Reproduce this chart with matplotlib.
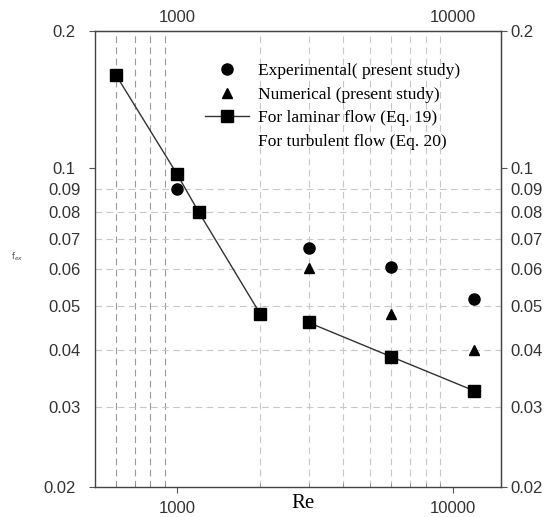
# Friction factor vs Re (log-log)

import matplotlib.pyplot as plt
from matplotlib.lines import Line2D
from matplotlib.ticker import FixedLocator, NullFormatter, FuncFormatter

# Experimental (present study)
re_exp = [1000, 3000, 6000, 12000]
f_exp = [0.090, 0.0668, 0.0608, 0.0516]

# Numerical (present study)
re_num = [3000, 6000, 12000]
f_num = [0.0605, 0.0479, 0.0399]

# Laminar (Eq. 19)
re_lam = [600, 1000, 1200, 2000]
f_lam = [0.16, 0.097, 0.080, 0.048]

# Turbulent (Eq. 20)
re_turb = [3000, 6000, 12000]
f_turb = [0.0459, 0.0386, 0.0325]

x_major = [1000, 10000]
y_major = [0.02, 0.1, 0.2]
y_minor = [0.03, 0.04, 0.05, 0.06, 0.07, 0.08, 0.09]
x_grid = [600, 700, 800, 900, 2000, 3000, 4000, 5000, 6000, 7000, 8000, 9000]

serif = 'Liberation Serif'
sans = 'Liberation Sans'
tick_color = '#333333'

fig = plt.figure(figsize=(5.45, 5.17), dpi=100)
ax = fig.add_axes([0.1743, 0.058, 0.745, 0.882])
ax.set_xscale('log')
ax.set_yscale('log')
ax.set_xlim(503, 15000)
ax.set_ylim(0.02, 0.2)

# сетка
for x in x_grid:
    c = '#9a9a9a' if x < 1000 else '#c8c8c8'
    ax.axvline(x, color=c, lw=0.8, dashes=(6, 4), zorder=0)
for y in y_minor:
    ax.axhline(y, color='#c8c8c8', lw=0.8, dashes=(6, 4), zorder=0)

# данные
ax.plot(re_lam, f_lam, color='#333333', lw=1, marker='s', ms=8.5,
        mfc='black', mec='black', zorder=3)
ax.plot(re_turb, f_turb, color='#333333', lw=1, marker='s', ms=8.5,
        mfc='black', mec='black', zorder=3)
ax.plot(re_exp, f_exp, 'o', color='black', ms=8, zorder=4)
ax.plot(re_num, f_num, '^', color='black', ms=7, zorder=4)

# оси
ax.xaxis.set_major_locator(FixedLocator(x_major))
ax.yaxis.set_major_locator(FixedLocator(y_major))
ax.yaxis.set_minor_locator(FixedLocator(y_minor))
fmt_y = FuncFormatter(lambda v, p: f'{v:g}')
fmt_x = FuncFormatter(lambda v, p: f'{v:.0f}')
ax.yaxis.set_major_formatter(fmt_y)
ax.yaxis.set_minor_formatter(fmt_y)
ax.xaxis.set_major_formatter(fmt_x)
ax.xaxis.set_minor_formatter(NullFormatter())

ax.tick_params(axis='both', which='major', direction='out', length=4,
               width=0.8, colors='#555555', labelcolor=tick_color, labelsize=12)
ax.tick_params(axis='x', which='minor', direction='in', length=3,
               width=0.6, colors='#888888')
ax.tick_params(axis='y', which='minor', length=0, labelcolor=tick_color,
               labelsize=12)
ax.tick_params(axis='x', which='major', pad=6)
ax.tick_params(axis='y', which='both', pad=10)
for lab in ax.get_xticklabels() + ax.get_yticklabels(minor=False) + ax.get_yticklabels(minor=True):
    lab.set_fontfamily(sans)

top = ax.secondary_xaxis('top')
top.xaxis.set_major_locator(FixedLocator(x_major))
top.xaxis.set_major_formatter(fmt_x)
top.xaxis.set_minor_locator(FixedLocator([]))
top.xaxis.set_minor_formatter(NullFormatter())
top.tick_params(which='major', direction='out', length=0, pad=4,
                labelcolor=tick_color, labelsize=12)

right = ax.secondary_yaxis('right')
right.yaxis.set_major_locator(FixedLocator(y_major))
right.yaxis.set_minor_locator(FixedLocator(y_minor))
right.yaxis.set_major_formatter(fmt_y)
right.yaxis.set_minor_formatter(fmt_y)
right.tick_params(which='major', direction='out', length=4, width=0.8,
                  colors='#555555', labelcolor=tick_color, labelsize=12, pad=3)
right.tick_params(which='minor', length=0, labelcolor=tick_color,
                  labelsize=12, pad=7)
for a in (top.xaxis, right.yaxis):
    for lab in a.get_ticklabels() + a.get_ticklabels(minor=True):
        lab.set_fontfamily(sans)

for s in ax.spines.values():
    s.set_color('#444444')
    s.set_linewidth(1)
for s in list(top.spines.values()) + list(right.spines.values()):
    s.set_color('#444444')

# подписи
fig.text(303 / 545, 1 - 503 / 517, 'Re', family=serif, fontsize=15,
         ha='center', va='center')
fig.text(17 / 545, 1 - 257 / 517, r'f$_{ex}$', fontsize=6, color='#555555',
         ha='center', va='center')

# легенда
handles = [
    Line2D([], [], ls='none', marker='o', color='black', ms=8),
    Line2D([], [], ls='none', marker='^', color='black', ms=7),
    Line2D([], [], color='#333333', lw=1, marker='s', ms=8,
           mfc='black', mec='black'),
    Line2D([], [], ls='none'),
]
labels = ['Experimental( present study)', 'Numerical (present study)',
          'For laminar flow (Eq. 19)', 'For turbulent flow (Eq. 20)']
ax.legend(handles, labels, loc='upper left', bbox_to_anchor=(0.255, 0.945),
          frameon=False, prop={'family': serif, 'size': 12.5},
          handlelength=2.5, handletextpad=0.55, labelspacing=0.42,
          borderaxespad=0)

plt.savefig('out.png', dpi=100)
